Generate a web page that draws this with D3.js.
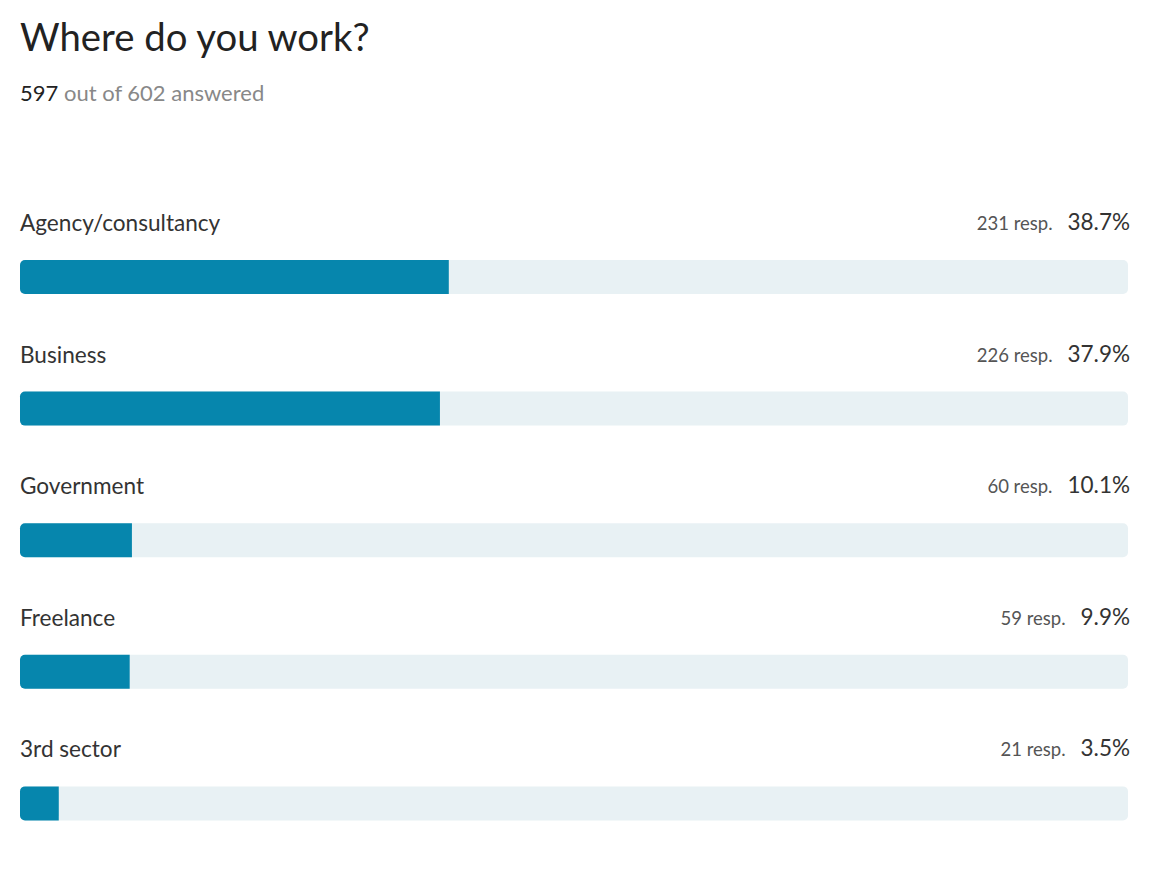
<!DOCTYPE html>
<html>
<head>
<meta charset="utf-8">
<script src="https://cdn.jsdelivr.net/npm/d3@7"></script>
<style>
  body { margin: 0; background: #fff; }
  svg text { font-family: Lato, "Noto Sans", sans-serif; }
</style>
</head>
<body>
<div class="canvas"></div>
<script>
const categories = ['Agency/consultancy', 'Business', 'Government', 'Freelance', '3rd sector']
const responses = [231, 226, 60, 59, 21]
const percents = [38.7, 37.9, 10.1, 9.9, 3.5]
const answered = 597
const total = 602

const width = 1155, height = 892
const svg = d3.select('.canvas')
              .append('svg')
              .attr('width', width)
              .attr('height', height)

svg.append('text')
   .attr('x', 20).attr('y', 51)
   .attr('font-size', 38.3)
   .attr('fill', '#222')
   .text('Where do you work?')

const sub = svg.append('text')
   .attr('x', 20).attr('y', 101)
   .attr('font-size', 22)
   .attr('fill', '#888')
sub.append('tspan').attr('fill', '#222').text(answered)
sub.append('tspan').text(` out of ${total} answered`)

const x = d3.scaleLinear().domain([0, 100]).range([20, 1128])
const y = d3.scaleBand().domain(categories).range([200, 858]).paddingInner(0)

const rows = svg.selectAll('g.row')
  .data(categories.map((c, i) => ({cat: c, resp: responses[i], pct: percents[i]})))
  .enter().append('g')
  .attr('class', 'row')
  .attr('transform', d => `translate(0,${y(d.cat)})`)

rows.append('text')
    .attr('x', 20).attr('y', 31)
    .attr('font-size', 22.6)
    .attr('fill', '#333')
    .text(d => d.cat)

const r = 5
// background track
rows.append('rect')
    .attr('x', x(0)).attr('y', 60)
    .attr('width', x(100) - x(0)).attr('height', 34)
    .attr('rx', r)
    .attr('fill', '#e8f1f4')

// filled part: rounded left side only
rows.append('path')
    .attr('fill', '#0686ad')
    .attr('d', d => {
      const x0 = x(0), x1 = x(d.pct), top = 60, h = 34
      return `M${x1},${top} H${x0 + r} A${r},${r} 0 0 0 ${x0},${top + r} V${top + h - r} A${r},${r} 0 0 0 ${x0 + r},${top + h} H${x1} Z`
    })

const right = rows.append('text')
    .attr('x', 1130).attr('y', 30)
    .attr('text-anchor', 'end')
right.append('tspan')
     .attr('font-size', 18.5).attr('fill', '#555')
     .text(d => `${d.resp} resp.`)
right.append('tspan')
     .attr('dx', 15)
     .attr('font-size', 22.5).attr('fill', '#333')
     .text(d => `${d.pct.toFixed(1)}%`)
</script>
</body>
</html>
